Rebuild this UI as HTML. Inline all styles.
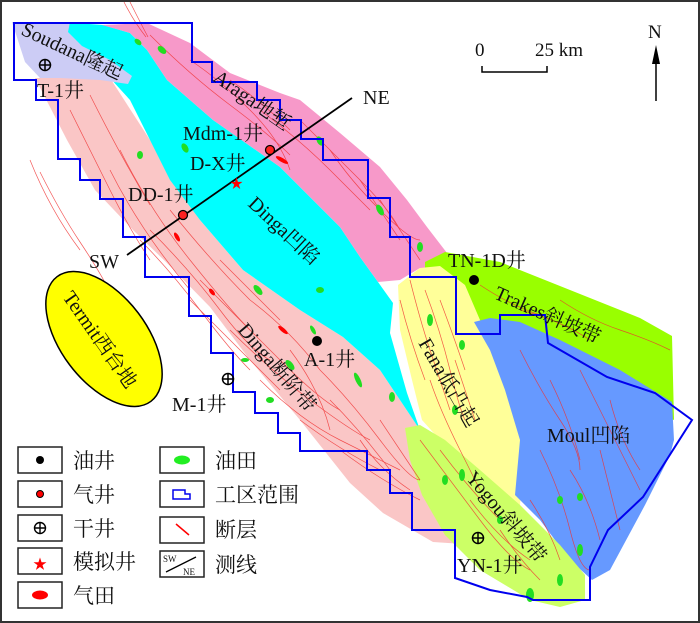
<!DOCTYPE html>
<html><head><meta charset="utf-8"><style>
html,body{margin:0;padding:0;background:#fff}
svg{display:block}
text{font-family:"Liberation Serif","Noto Serif CJK SC","Noto Sans CJK SC",serif;fill:#111}
</style></head><body>
<svg width="700" height="623" viewBox="0 0 700 623" xmlns="http://www.w3.org/2000/svg">
<rect x="1" y="1" width="698" height="621" fill="#fff" stroke="#333" stroke-width="2"/>

<!-- pink light Dinga step zone -->
<path d="M35,78 L110,78 L150,140 L200,220 L243,270 L300,310 L343,337 L380,370 L400,400 L420,430 L440,470 L470,515 L478,545 L433,542 L383,513 L350,483 L300,420 L250,360 L210,307 L167,263 L133,230 L95,190 L67,140 L50,107 Z" fill="#fac6c6"/>
<!-- cyan Dinga sag -->
<path d="M62,22 L103,25 L130,33 L147,50 L167,80 L190,100 L213,120 L280,167 L340,227 L360,257 L378,282 L393,303 L390,333 L407,393 L420,430 L400,400 L380,370 L343,337 L300,310 L243,270 L200,220 L170,180 L150,140 L130,100 L110,78 L60,60 Z" fill="#00ffff"/>
<!-- Araga pink -->
<path d="M102,25 L147,23 L190,43 L230,73 L280,93 L300,100 L340,133 L380,167 L407,200 L427,227 L447,253 L440,272 L420,268 L400,280 L378,282 L360,257 L340,227 L280,167 L213,120 L190,100 L167,80 L147,50 L130,33 Z" fill="#f799c9"/>
<!-- Soudana lavender -->
<path d="M12,22 L70,22 L68,32 L82,46 L110,60 L132,76 L128,84 L100,80 L60,78 L40,78 L25,62 Z" fill="#ccccf5"/>
<!-- Trakes green -->
<path d="M425,262 L445,252 L500,262 L570,290 L640,318 L672,336 L674,420 L650,410 L600,382 L550,350 L500,328 L470,320 L425,300 Z" fill="#99ff00"/>
<!-- Yellow Fana -->
<path d="M398,285 L420,268 L440,266 L465,285 L480,320 L495,350 L505,380 L520,430 L522,480 L520,505 L505,505 L470,480 L440,440 L422,420 L412,380 L400,330 Z" fill="#ffff99"/>
<!-- Blue Moul -->
<path d="M474,322 L490,318 L520,322 L560,340 L620,370 L672,402 L674,440 L670,455 L645,505 L610,570 L592,580 L570,560 L540,520 L515,495 L520,440 L505,390 L490,350 Z" fill="#6699ff"/>
<!-- Yogou -->
<path d="M405,428 L420,425 L445,440 L480,470 L520,505 L560,545 L585,575 L585,600 L560,607 L530,600 L480,570 L445,535 L422,495 L410,460 Z" fill="#ccff66"/>

<!-- faults -->
<g stroke="#f03030" stroke-width="0.7" fill="none" opacity="0.8">
<path d="M40,172 q20,40 40,70 t30,50"/><path d="M30,160 q20,50 50,90"/>
<path d="M70,110 q20,40 40,80 t40,70"/><path d="M90,95 q30,60 60,110"/>
<path d="M120,150 q30,60 70,110 t60,70"/><path d="M110,170 q30,60 80,120"/>
<path d="M150,230 q40,40 70,80 t50,50"/><path d="M170,210 q40,50 80,90"/>
<path d="M200,280 q40,40 80,80 t60,50"/><path d="M190,300 q50,50 90,90"/>
<path d="M230,330 q40,40 80,70 t60,40"/><path d="M250,300 q40,30 70,70"/>
<path d="M260,380 q40,40 80,60 t60,30"/><path d="M300,420 q40,30 80,50"/>
<path d="M320,370 q30,30 60,70 t40,40"/><path d="M340,450 q40,30 80,50"/>
<path d="M380,420 q20,30 40,60"/><path d="M290,350 q30,40 40,80"/>
<path d="M140,240 q30,30 60,70 t50,60"/><path d="M220,260 q30,30 60,60"/>
<path d="M330,400 q30,30 60,70"/><path d="M360,440 q20,30 50,50"/>
<path d="M150,35 q40,40 80,70 t60,50"/><path d="M190,60 q30,20 60,50 t40,60"/>
<path d="M230,80 q30,20 60,50"/><path d="M260,110 q40,30 70,60 t40,40"/>
<path d="M300,120 q30,30 60,60 t40,50"/><path d="M330,150 q20,30 50,60 t40,30"/>
<path d="M360,180 q20,30 40,60"/><path d="M380,200 q20,30 40,60"/>
<path d="M124,2 q10,20 22,35"/><path d="M130,2 q10,20 18,35"/>
<path d="M410,280 q10,40 20,70 t20,60"/><path d="M425,290 q15,40 25,80 t15,50"/>
<path d="M440,300 q15,40 25,70"/><path d="M400,300 q10,40 25,80"/>
<path d="M430,380 q10,30 30,70 t20,40"/><path d="M455,360 q10,30 20,60"/>
<path d="M420,440 q30,40 60,80 t50,50"/><path d="M440,450 q30,40 60,70"/>
<path d="M470,500 q30,40 60,60"/><path d="M500,530 q20,30 40,50"/>
<path d="M520,350 q20,40 40,70 t20,50"/><path d="M550,380 q20,40 30,80"/>
<path d="M580,370 q20,40 40,80 t20,40"/><path d="M610,400 q10,40 30,70"/>
<path d="M540,450 q20,40 30,80 t20,40"/><path d="M570,470 q20,30 30,70"/>
<path d="M600,450 q10,40 20,80"/><path d="M530,500 q20,30 30,60"/>
<path d="M480,285 q30,20 60,30"/><path d="M560,300 q30,20 60,30 t50,20"/>
<path d="M520,310 q40,10 70,30"/>
</g>
<!-- oil fields -->
<g fill="#22dd22">
<ellipse cx="138" cy="42" rx="4" ry="2.5" transform="rotate(40 138 42)"/>
<ellipse cx="162" cy="50" rx="5" ry="3" transform="rotate(40 162 50)"/>
<ellipse cx="140" cy="155" rx="3" ry="4"/>
<ellipse cx="185" cy="148" rx="3" ry="5" transform="rotate(-30 185 148)"/>
<ellipse cx="258" cy="290" rx="6" ry="3" transform="rotate(50 258 290)"/>
<ellipse cx="290" cy="365" rx="6" ry="3" transform="rotate(50 290 365)"/>
<ellipse cx="313" cy="330" rx="5" ry="2" transform="rotate(60 313 330)"/>
<ellipse cx="358" cy="380" rx="8" ry="2.5" transform="rotate(65 358 380)"/>
<ellipse cx="245" cy="360" rx="4" ry="2"/>
<ellipse cx="270" cy="400" rx="4" ry="3"/>
<ellipse cx="392" cy="397" rx="3" ry="5"/>
<ellipse cx="320" cy="290" rx="4" ry="3"/>
<ellipse cx="320" cy="141" rx="3" ry="5" transform="rotate(-30 320 141)"/>
<ellipse cx="380" cy="210" rx="3" ry="6" transform="rotate(-30 380 210)"/>
<ellipse cx="420" cy="247" rx="3" ry="5"/>
<ellipse cx="430" cy="320" rx="3" ry="6"/>
<ellipse cx="462" cy="345" rx="3" ry="5"/>
<ellipse cx="455" cy="410" rx="3" ry="5"/>
<ellipse cx="445" cy="480" rx="3" ry="5"/>
<ellipse cx="462" cy="475" rx="3" ry="6"/>
<ellipse cx="530" cy="595" rx="4" ry="7"/>
<ellipse cx="560" cy="580" rx="3" ry="6"/>
<ellipse cx="580" cy="550" rx="3" ry="6"/>
<ellipse cx="560" cy="500" rx="3" ry="4"/>
<ellipse cx="580" cy="497" rx="3" ry="4"/>
<ellipse cx="500" cy="520" rx="3" ry="4"/>
</g>
<g fill="#ff0000">
<ellipse cx="177" cy="237" rx="5" ry="2" transform="rotate(60 177 237)"/>
<ellipse cx="282" cy="160" rx="7" ry="2" transform="rotate(30 282 160)"/>
<ellipse cx="283" cy="330" rx="6" ry="2" transform="rotate(40 283 330)"/>
<ellipse cx="212" cy="292" rx="4" ry="2" transform="rotate(50 212 292)"/>
</g>

<!-- Termit ellipse -->
<ellipse cx="104" cy="339" rx="78" ry="43" transform="rotate(53 104 339)" fill="#ffff00" stroke="#000" stroke-width="1.5"/>

<!-- study area boundary -->
<path d="M14,23 L192,23 L192,62 L212,62 L212,82 L257,82 L257,100 L280,100 L280,120 L301,120 L301,139 L323,139 L323,160 L368,160 L368,198 L390,198 L390,237 L410,237 L410,277 L456,277 L456,334 L500,334 L500,315 L545,315 L548,343 L607,377 L655,393 L692,420 L643,497 L608,530 L590,567 L590,600 L533,600 L527,597 L490,590 L455,578 L455,530 L412,530 L412,493 L390,493 L390,470 L367,470 L367,451 L300,451 L300,433 L278,433 L278,413 L255,413 L255,392 L233,392 L233,353 L211,353 L211,316 L189,316 L189,277 L145,277 L145,237 L123,237 L123,199 L100,199 L100,180 L80,180 L80,159 L58,159 L58,100 L36,100 L36,80 L14,80 Z" fill="none" stroke="#0000ee" stroke-width="2"/>

<!-- SW-NE line -->
<line x1="127" y1="255" x2="352" y2="98" stroke="#000" stroke-width="1.8"/>
<text x="89" y="268" font-size="20">SW</text>
<text x="363" y="104" font-size="20">NE</text>

<!-- wells -->
<g stroke="#000" stroke-width="1.5" fill="none">
<circle cx="45" cy="65" r="5.5"/><path d="M39.5,65h11M45,59.5v11"/>
<circle cx="228" cy="379" r="5.5"/><path d="M222.5,379h11M228,373.5v11"/>
<circle cx="478" cy="538" r="5.5"/><path d="M472.5,538h11M478,532.5v11"/>
</g>
<circle cx="270" cy="150" r="4.5" fill="#ff2020" stroke="#000" stroke-width="1.3"/>
<circle cx="183" cy="215" r="4.5" fill="#ff2020" stroke="#000" stroke-width="1.3"/>
<circle cx="317" cy="341" r="5" fill="#000"/>
<circle cx="474" cy="280" r="5" fill="#000"/>
<text x="230" y="188" font-size="13" fill="#ff0000" style="fill:#ff0000">★</text>

<g font-size="20">
<text x="37" y="97">T-1井</text>
<text x="183" y="140">Mdm-1井</text>
<text x="190" y="170">D-X井</text>
<text x="128" y="201">DD-1井</text>
<text x="304" y="366">A-1井</text>
<text x="172" y="411">M-1井</text>
<text x="448" y="267">TN-1D井</text>
<text x="457" y="572">YN-1井</text>
<text x="547" y="442">Moul凹陷</text>
<text transform="translate(20,34) rotate(25)">Soudana隆起</text>
<text transform="translate(212,80) rotate(35)">Araga地堑</text>
<text transform="translate(247,205) rotate(43)">Dinga凹陷</text>
<text transform="translate(62,297) rotate(55)">Termit西台地</text>
<text transform="translate(237,330) rotate(50)">Dinga断阶带</text>
<text transform="translate(418,343) rotate(60)">Fana低凸起</text>
<text transform="translate(493,298) rotate(24)">Trakes斜坡带</text>
<text transform="translate(465,478) rotate(50)">Yogou斜坡带</text>
</g>

<!-- scale & north -->
<text x="475" y="56" font-size="19">0</text>
<text x="535" y="56" font-size="19">25 km</text>
<path d="M482,66 V72 H547 V66" fill="none" stroke="#000" stroke-width="1.5"/>
<text x="648" y="38" font-size="19">N</text>
<line x1="656" y1="101" x2="656" y2="58" stroke="#000" stroke-width="1.5"/>
<path d="M652,64 L656,45 L660,64 Z" fill="#000"/>

<!-- legend -->
<g fill="#fff" stroke="#222" stroke-width="1.5">
<rect x="18" y="447" width="44" height="26"/>
<rect x="18" y="481" width="44" height="26"/>
<rect x="18" y="515" width="44" height="26"/>
<rect x="18" y="548" width="44" height="26"/>
<rect x="18" y="582" width="44" height="26"/>
<rect x="160" y="447" width="44" height="26"/>
<rect x="160" y="481" width="44" height="26"/>
<rect x="160" y="517" width="44" height="26"/>
<rect x="160" y="551" width="44" height="26"/>
</g>
<circle cx="40" cy="460" r="4" fill="#000"/>
<circle cx="40" cy="494" r="3.5" fill="#ff0000" stroke="#000" stroke-width="1"/>
<g stroke="#000" stroke-width="1.4" fill="none"><circle cx="40" cy="528" r="5.5"/><path d="M34.5,528h11M40,522.5v11"/></g>
<text x="33" y="569" font-size="14" style="fill:#ff0000">★</text>
<ellipse cx="40" cy="595" rx="8" ry="4.5" fill="#ff0000"/>
<ellipse cx="182" cy="460" rx="8" ry="4.5" fill="#22ee22"/>
<path d="M173,490 H185 V494 H190 V499 H173 Z" fill="none" stroke="#0000ee" stroke-width="1.5"/>
<line x1="176" y1="524" x2="189" y2="535" stroke="#ff0000" stroke-width="1.5"/>
<line x1="166" y1="572" x2="196" y2="557" stroke="#000" stroke-width="1.3"/>
<text x="163" y="562" font-size="9">SW</text>
<text x="183" y="575" font-size="9">NE</text>
<g font-size="21" style="font-family:'Noto Sans CJK SC',sans-serif">
<text x="73" y="468">油井</text>
<text x="73" y="502">气井</text>
<text x="73" y="536">干井</text>
<text x="73" y="569">模拟井</text>
<text x="73" y="603">气田</text>
<text x="215" y="468">油田</text>
<text x="215" y="502">工区范围</text>
<text x="215" y="537">断层</text>
<text x="215" y="572">测线</text>
</g>
</svg>
</body></html>
